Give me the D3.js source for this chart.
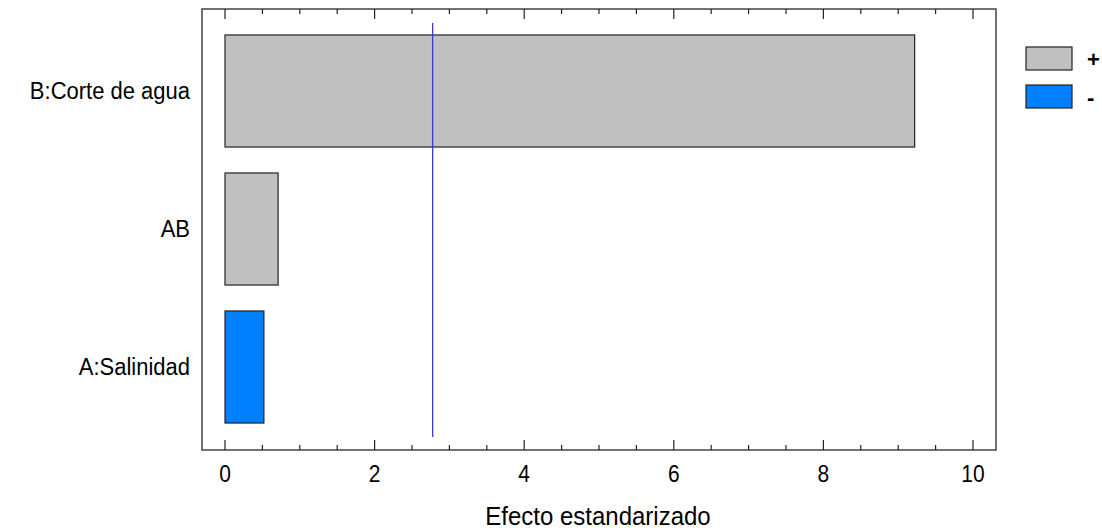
<!DOCTYPE html>
<html>
<head>
<meta charset="utf-8">
<script src="https://cdn.jsdelivr.net/npm/d3@7"></script>
<style>
  body { margin: 0; background: #fff; }
  text { font-family: "Liberation Sans", Arial, sans-serif; fill: #000; }
</style>
</head>
<body>
<div id="vis"></div>
<script>
// effects (Pareto chart)
const categories = ["B:Corte de agua", "AB", "A:Salinidad"];
const effects = [9.22, 0.71, 0.52];
const signs = ["+", "+", "-"];
const xTicks = [0, 2, 4, 6, 8, 10];
const critical = 2.776;

const width = 1102;
const height = 531;
const frame = { left: 202, right: 996, top: 9, bottom: 450 };
const stretch = 1.12; // text in the original is a bit tall

const fillColour = d3.scaleOrdinal().domain(["+", "-"]).range(["#c0c0c0", "#0080ff"]);

const x = d3.scaleLinear().domain([0, 10]).range([225, 973]);
const y = d3.scaleBand().domain(categories).range([22, 436]).paddingInner(0.188).paddingOuter(0.094);

const svg = d3.select("#vis").append("svg")
  .attr("width", width)
  .attr("height", height);

// bars
svg.selectAll(".bar")
  .data(categories)
  .enter()
  .append("rect")
  .attr("class", "bar")
  .attr("x", x(0))
  .attr("y", (d) => y(d))
  .attr("width", (d, i) => x(effects[i]) - x(0))
  .attr("height", y.bandwidth())
  .attr("fill", (d, i) => fillColour(signs[i]))
  .attr("stroke", "#222")
  .attr("stroke-width", 1.2);

// critical value line
svg.append("line")
  .attr("x1", x(critical)).attr("x2", x(critical))
  .attr("y1", 23).attr("y2", 437)
  .attr("stroke", "#3b3bdd")
  .attr("stroke-width", 1.3);

// frame
svg.append("rect")
  .attr("x", frame.left).attr("y", frame.top)
  .attr("width", frame.right - frame.left)
  .attr("height", frame.bottom - frame.top)
  .attr("fill", "none")
  .attr("stroke", "#444")
  .attr("stroke-width", 1.5);

// ticks, bottom and top, pointing in
const minor = d3.range(0, 10.01, 0.5);
const tickG = svg.append("g").attr("stroke", "#222").attr("stroke-width", 1.2);
minor.forEach((v) => {
  const len = Math.abs(v % 2) < 1e-9 ? 10 : 5;
  tickG.append("line")
    .attr("x1", x(v)).attr("x2", x(v))
    .attr("y1", frame.bottom).attr("y2", frame.bottom - len);
  tickG.append("line")
    .attr("x1", x(v)).attr("x2", x(v))
    .attr("y1", frame.top).attr("y2", frame.top + len);
});

svg.selectAll(".xlabel")
  .data(xTicks)
  .enter()
  .append("text")
  .attr("transform", (d) => `translate(${x(d)},482) scale(1,${stretch})`)
  .style("text-anchor", "middle")
  .style("font-size", "21px")
  .text((d) => d);

svg.append("text")
  .attr("transform", `translate(598,525) scale(1,1.05)`)
  .style("text-anchor", "middle")
  .style("font-size", "24px")
  .text("Efecto estandarizado");

// category labels
svg.selectAll(".ylabel")
  .data(categories)
  .enter()
  .append("text")
  .attr("transform", (d) => `translate(190,${y(d) + y.bandwidth() / 2 + 8}) scale(1,${stretch})`)
  .style("text-anchor", "end")
  .style("font-size", "22px")
  .text((d) => d);

// legend
const legend = svg.selectAll(".legend")
  .data(["+", "-"])
  .enter()
  .append("g")
  .attr("transform", (d, i) => `translate(1026,${47 + i * 38})`);

legend.append("rect")
  .attr("width", 46)
  .attr("height", 23)
  .attr("fill", (d) => fillColour(d))
  .attr("stroke", "#222")
  .attr("stroke-width", 1.2);

legend.append("text")
  .attr("x", 61)
  .attr("y", 12)
  .attr("dy", ".35em")
  .style("font-size", "22px")
  .style("font-weight", "bold")
  .text((d) => d);
</script>
</body>
</html>
